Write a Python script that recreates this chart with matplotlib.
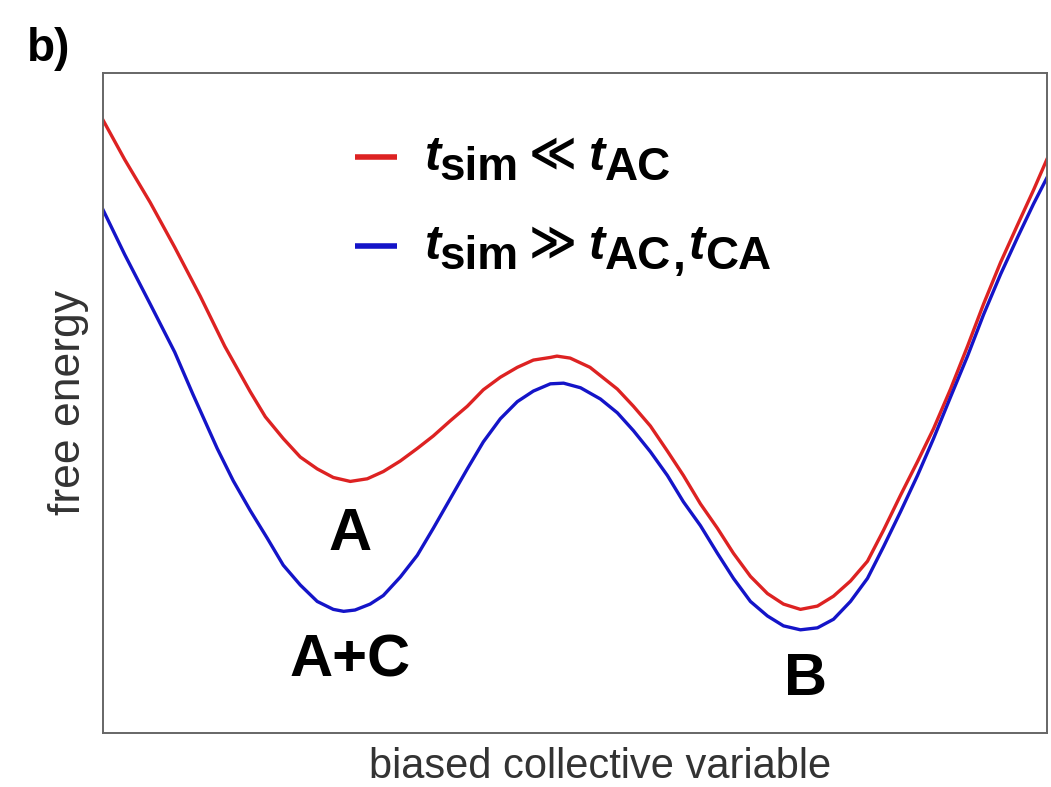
import matplotlib
matplotlib.use("Agg")
import matplotlib.pyplot as plt
from matplotlib.lines import Line2D

plt.rcParams['font.family'] = ['Liberation Sans', 'DejaVu Sans']

# free energy profiles along the biased CV (arbitrary units)
cv_short = [0, 2.3, 5.0, 7.6, 10.3, 12.9, 15.6, 17.2, 19.1, 20.9, 22.7, 24.4,
            26.2, 28.0, 29.7, 31.5, 33.3, 35.0, 36.8, 38.6, 40.3, 42.1, 43.9,
            45.6, 47.4, 48.1, 49.5, 51.6, 54.5, 56.2, 58.0, 59.8, 61.5, 63.3,
            65.1, 66.8, 68.6, 70.4, 72.1, 73.9, 75.7, 77.4, 79.2, 81.0, 82.7,
            84.5, 86.3, 88.0, 89.8, 91.6, 93.3, 95.1, 96.9, 98.6, 100]
fe_short = [92.9, 86.9, 80.4, 73.6, 66.2, 58.6, 51.7, 47.9, 44.6, 41.8, 40.0,
            38.7, 38.1, 38.5, 39.6, 41.2, 43.1, 45.0, 47.3, 49.5, 52.0, 53.9,
            55.4, 56.5, 56.9, 57.1, 56.8, 55.4, 52.1, 49.5, 46.5, 42.7, 39.0,
            34.7, 31.0, 27.2, 23.7, 21.1, 19.5, 18.7, 19.2, 20.7, 23.0, 26.0,
            30.7, 36.0, 41.1, 46.1, 52.1, 58.6, 65.0, 71.3, 77.0, 82.3, 86.9]

cv_long = [0, 2.3, 5.0, 7.6, 9.5, 12.1, 13.8, 15.6, 17.4, 19.1, 20.9, 22.7,
           24.4, 25.5, 26.7, 28.3, 29.7, 31.5, 33.3, 35.0, 36.8, 38.6, 40.3,
           42.1, 43.9, 45.6, 47.4, 48.8, 50.6, 52.7, 54.5, 56.2, 58.0, 59.8,
           61.5, 63.3, 65.1, 66.8, 68.6, 70.4, 72.1, 73.9, 75.7, 77.4, 79.2,
           81.0, 82.7, 84.5, 86.3, 88.0, 89.8, 91.6, 93.3, 95.1, 96.9, 98.6,
           100]
fe_long = [79.3, 72.5, 65.0, 57.7, 51.4, 43.1, 38.2, 33.7, 29.5, 25.4, 22.4,
           19.9, 18.7, 18.4, 18.6, 19.5, 20.8, 23.6, 26.9, 31.0, 35.5, 40.0,
           44.1, 47.6, 50.2, 51.8, 52.9, 53.0, 52.3, 50.6, 48.5, 45.8, 42.6,
           39.0, 35.0, 31.4, 27.2, 23.4, 19.9, 17.7, 16.2, 15.6, 15.9, 17.2,
           19.9, 23.4, 28.2, 33.5, 39.0, 44.6, 50.9, 57.1, 63.4, 69.5, 75.1,
           80.2, 84.1]

red = '#dd2222'
blue = '#1414c8'

fig = plt.figure(figsize=(10.51, 7.87), dpi=100)
ax = fig.add_axes([0.098, 0.069, 0.898, 0.838])

ax.plot(cv_short, fe_short, color=red, lw=2.4)
ax.plot(cv_long, fe_long, color=blue, lw=2.4)

ax.set_xlim(0, 100)
ax.set_ylim(0, 100)
ax.set_xticks([])
ax.set_yticks([])
for s in ax.spines.values():
    s.set_color('#666666')
    s.set_linewidth(1.4)

ax.set_xlabel('biased collective variable', fontsize=30, color='#333333')
ax.xaxis.set_label_coords(0.527, -0.021)
ax.set_ylabel('free energy', fontsize=32, color='#333333', labelpad=10)


def key_row(y, color, pieces, x0=0.341, key=(0.267, 0.312), key_dy=0.02):
    # short colour key followed by a run of text pieces sharing one baseline
    ax.add_line(Line2D(key, [y + key_dy] * 2, transform=ax.transAxes,
                       color=color, lw=4, solid_capstyle='butt'))
    prev = None
    for s, size, italic, gap, dy, fam in pieces:
        kw = dict(textcoords='offset points', fontsize=size, fontweight='bold',
                  fontstyle='italic' if italic else 'normal', family=fam,
                  ha='left', va='baseline', annotation_clip=False)
        if prev is None:
            prev = ax.annotate(s, xy=(x0, y), xycoords='axes fraction',
                               xytext=(gap, dy), **kw)
        else:
            prev = ax.annotate(s, xy=(1, y), xycoords=(prev, 'axes fraction'),
                               xytext=(gap, dy), **kw)


lib = ['Liberation Sans', 'DejaVu Sans']
sym = ['DejaVu Sans']
key_row(0.853, red, [
    ('t', 35, True, 0, 0, lib),
    ('sim', 33, False, -1, -7, lib),
    ('\u226a', 33, False, 7, 2, sym),
    ('t', 35, True, 9, 0, lib),
    ('AC', 33, False, 0, -7, lib),
])
key_row(0.718, blue, [
    ('t', 35, True, 0, 0, lib),
    ('sim', 33, False, -1, -7, lib),
    ('\u226b', 33, False, 7, 2, sym),
    ('t', 35, True, 9, 0, lib),
    ('AC', 33, False, 0, -7, lib),
    (',', 33, False, 1, -7, lib),
    ('t', 35, True, 2, 0, lib),
    ('CA', 33, False, 0, -7, lib),
])

ax.text(26.2, 30.1, 'A', fontsize=43, fontweight='bold', ha='center', va='center')
ax.text(26.2, 10.8, 'A+C', fontsize=43, fontweight='bold', ha='center', va='center')
ax.text(74.4, 8.0, 'B', fontsize=43, fontweight='bold', ha='center', va='center')

fig.text(0.046, 0.938, 'b)', fontsize=33, fontweight='bold', ha='center', va='center')

fig.savefig('out.png', dpi=100)
